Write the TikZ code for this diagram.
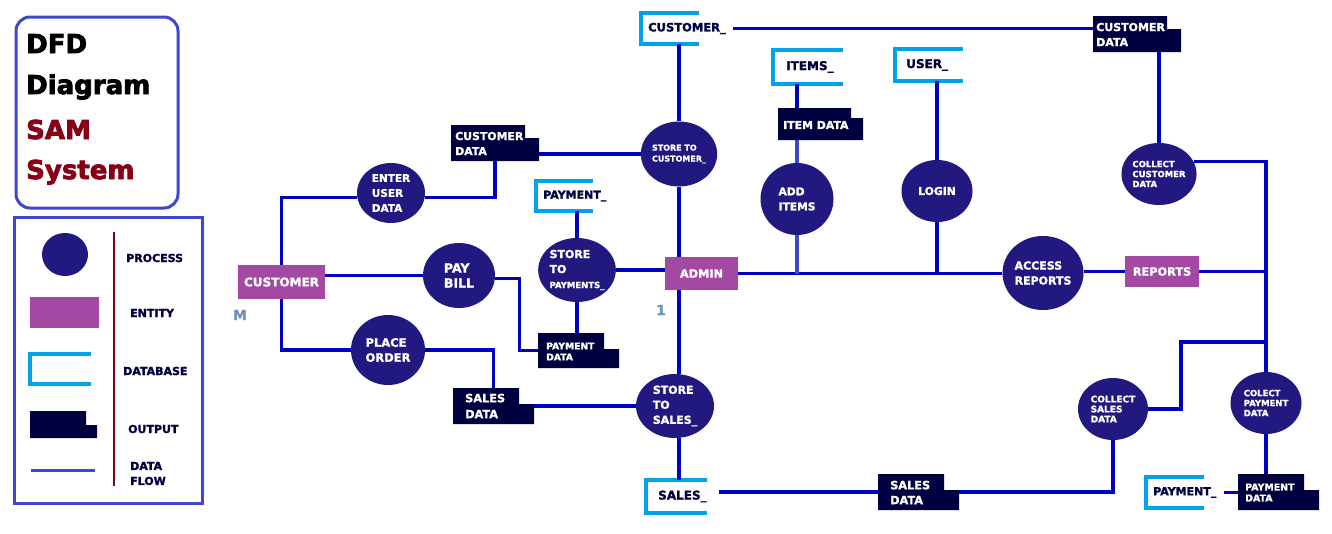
\documentclass[tikz,border=0pt]{standalone}
\usepackage{fontspec}
\setmainfont{DejaVu Sans}[BoldFeatures={FakeBold=1.6}]
\newfontfamily\titlefont{DejaVu Sans}[BoldFeatures={FakeBold=3}]
\usetikzlibrary{shapes.geometric,fit}
\definecolor{procc}{RGB}{33,25,128}
\definecolor{entc}{HTML}{A349A4}
\definecolor{dbc}{HTML}{00A2E8}
\definecolor{outc}{RGB}{0,0,64}
\definecolor{flowc}{RGB}{0,0,192}
\definecolor{flowl}{HTML}{3F48CC}
\definecolor{darkred}{HTML}{880015}
\definecolor{stray}{HTML}{7092BE}
\tikzset{
  fs/.style 2 args={font=\fontsize{#1}{#2}\selectfont\bfseries},
  ttl/.style={anchor=base west, inner sep=0pt, font=\titlefont\fontsize{26}{30}\selectfont\bfseries},
  proc/.style={ellipse, fill=procc, inner sep=0pt, text=white, align=left},
  ent/.style={rectangle, fill=entc, inner sep=0pt, text=white},
  dbtext/.style={text=outc, inner ysep=0pt, anchor=west},
  otext/.style={text=white, align=left, anchor=west, inner sep=0pt},
  flow/.style={draw=flowc, line width=3.3pt},
  flowtwo/.style={draw=flowl, line width=3.3pt},
  dbline/.style={draw=dbc, line width=3.3pt},
  lgtext/.style={text=outc, anchor=west, inner sep=0pt, fs={11}{15}, align=left},
}
\newcommand\outshape[7]{%
  \fill[outc] (#2,#3) -- (#4,#3) -- (#4,#7) -- (#6,#7) -- (#6,#5) -- (#2,#5) -- cycle;
  \node[fit={(#2,#3) (#6,#5)}, inner sep=0pt] (#1) {};
}
\newcommand\dbshape[8]{%
  \draw[dbline] (#4,#3) -- (#2,#3) -- (#2,#5) -- (#4,#5);
  \node[dbtext, inner xsep=#6pt, minimum height={#5-#3}, #7] (#1) at (#2,{(#3+#5)/2}) {#8};
}
\begin{document}
\begin{tikzpicture}[x=1pt,y=-1pt]
\useasboundingbox (0,0) rectangle (1332,533);
\fill[white] (0,0) rectangle (1332,533);

% ---- title box
\draw[flowl, line width=3pt, rounded corners=14pt] (16,17) rectangle (178,208);
\node[ttl] (tDFD) at (26,53) {DFD};
\node[ttl] (tDiag) at (26,94) {Diagram};
\node[ttl, text=darkred] (tSAM) at (26,139) {SAM};
\node[ttl, text=darkred] (tSys) at (26,179) {System};

% ---- legend
\draw[flowl, line width=3pt] (14,217) rectangle (202,503);
\node[ellipse, fill=procc, minimum width=46pt, minimum height=43pt, inner sep=0pt] (lgProc) at (65,254.5) {};
\fill[entc] (30,297) rectangle (99,328);
\draw[dbline] (91,354) -- (30,354) -- (30,384) -- (91,384);
\fill[outc] (30,411) -- (86,411) -- (86,425) -- (97,425) -- (97,438) -- (30,438) -- cycle;
\draw[flowl, line width=3pt] (31,470) -- (95,470);
\draw[darkred, line width=2.5pt] (114,232) -- (114,486);
\node[lgtext] (lgP) at (126,258) {PROCESS};
\node[lgtext] (lgE) at (130,313) {ENTITY};
\node[lgtext] (lgD) at (123,371) {DATABASE};
\node[lgtext] (lgO) at (128,429) {OUTPUT};
\node[lgtext] (lgF) at (130,473.5) {DATA\\FLOW};

% ---- entities
\node[ent, minimum width=87pt, minimum height=34pt, fs={12}{14}] (eCust) at (281.5,282) {CUSTOMER};
\node[ent, minimum width=73pt, minimum height=33pt, fs={11.3}{14}] (eAdmin) at (701.5,273.5) {ADMIN};
\node[ent, minimum width=74pt, minimum height=31pt, fs={11.3}{14}] (eRep) at (1162,271.5) {REPORTS};

% ---- processes
\node[proc, minimum width=68pt, minimum height=60pt, fs={10.5}{15}] (pEnter) at (391,193) {ENTER\\USER\\DATA};
\node[proc, minimum width=72pt, minimum height=65pt, fs={12.5}{15}] (pPay) at (459,275.5) {PAY\\BILL};
\node[proc, minimum width=74pt, minimum height=70pt, fs={11.5}{15}] (pPlace) at (388,350) {PLACE\\ORDER};
\node[proc, minimum width=68pt, minimum height=65pt, fs={8}{11}] (pStCust) at (679,154) {STORE TO\\CUSTOMER\_};
\node[proc, minimum width=77pt, minimum height=64pt, fs={11}{15}] (pStPay) at (577,270) {STORE\\TO\\{\fontsize{8.5}{10}\selectfont PAYMENTS\_}};
\node[proc, minimum width=78pt, minimum height=64pt, fs={11}{15}] (pStSales) at (675,406) {STORE\\TO\\SALES\_};
\node[proc, minimum width=73pt, minimum height=72pt, fs={10.7}{15}] (pAdd) at (797,199) {ADD\\ITEMS};
\node[proc, minimum width=71pt, minimum height=62pt, fs={10.8}{15}] (pLogin) at (937,191) {LOGIN};
\node[proc, minimum width=81pt, minimum height=74pt, fs={11}{15}] (pAccess) at (1043,273) {ACCESS\\REPORTS};
\node[proc, minimum width=72pt, minimum height=62pt, fs={8.5}{10}] (pColCust) at (1159,174) {COLLECT\\CUSTOMER\\DATA};
\node[proc, minimum width=70pt, minimum height=62pt, fs={9}{10}] (pColSales) at (1113,409) {COLLECT\\SALES\\DATA};
\node[proc, minimum width=71pt, minimum height=62pt, fs={8.5}{10}] (pColPay) at (1266,403) {COLECT\\PAYMENT\\DATA};

% ---- outputs
\outshape{cdL}{451}{125}{525}{161}{539}{138}
\node[otext, fs={10.9}{15}] (cdLt) at (455,143.5) {CUSTOMER\\DATA};
\outshape{idata}{778}{108}{851}{140}{863}{118}
\node[otext, fs={10.9}{15}] (idatat) at (783,125) {ITEM DATA};
\outshape{cdR}{1093}{16}{1167}{52}{1181}{29}
\node[otext, fs={11}{15}] (cdRt) at (1096,34.5) {CUSTOMER\\DATA};
\outshape{pdM}{538}{333}{604}{368}{619}{349}
\node[otext, fs={9.2}{11}] (pdMt) at (546,351.5) {PAYMENT\\DATA};
\outshape{sdL}{453}{388}{519}{424}{534}{404}
\node[otext, fs={11.3}{16}] (sdLt) at (465,406) {SALES\\DATA};
\outshape{sdB}{878}{474}{944}{510}{959}{490}
\node[otext, fs={11.3}{15}] (sdBt) at (890,492.5) {SALES\\DATA};
\outshape{pdB}{1238}{474}{1304}{510}{1319}{490}
\node[otext, fs={9.4}{11}] (pdBt) at (1245,492.5) {PAYMENT\\DATA};

% ---- databases
\dbshape{dbCust}{641}{13}{699}{44}{7}{fs={11.5}{14}}{CUSTOMER\_}
\dbshape{dbItems}{773}{50}{843}{84}{13}{fs={12}{14}}{ITEMS\_}
\dbshape{dbPayA}{536}{181}{593}{211}{7}{fs={11}{14}}{PAYMENT\_}
\dbshape{dbUser}{895}{49}{963}{81}{11}{fs={12}{14}}{USER\_}
\dbshape{dbSales}{646}{480}{707}{513}{12}{fs={12}{14}}{SALES\_}
\dbshape{dbPayB}{1146}{477}{1204}{508}{7}{fs={11}{14}}{PAYMENT\_}

% ---- stray marks
\node[text=stray, fs={14}{16}, inner sep=0pt] (strayM) at (240,315) {M};
\node[text=stray, fs={14}{16}, inner sep=0pt] (strayOne) at (661,310) {1};

% ---- connectors
\draw[flow] (eCust.north) |- (pEnter.188);
\draw[flow] (pEnter.-8) -| (cdL.south);
\draw[flow] (pPay.west) -- (pPay.west -| eCust.east);
\draw[flow] (eCust.south) |- (pPlace.west);
\draw[flow] (pPlace.east) -| (sdL.north);
\draw[flow] (pPay.-5) -| ([xshift=-18pt]pdM.west) -- (pdM.west);
\draw[flow] (pStSales.west) -- (pStSales.west -| sdL.east);
\draw[flow] (pStCust.west) -- (pStCust.west -| cdL.east);
\draw[flow] (pStCust.north) -- (pStCust.north |- dbCust.south);
\draw[flow] (pStCust.south) -- (pStCust.south |- eAdmin.north);
\draw[flow] (eAdmin.south -| pStCust.south) -- (pStCust.south |- pStSales.north);
\draw[flow] (pStCust.south |- pStSales.south) -- (pStCust.south |- dbSales.north);
\draw[flow] (pStPay.east) -- (pStPay.east -| eAdmin.west);
\draw[flow] (pStPay.north) -- (pStPay.north |- dbPayA.south);
\draw[flow] (pStPay.south) -- (pStPay.south |- pdM.north);
\draw[flow] (eAdmin.east) -- (eAdmin.east -| pAccess.west);
\draw[flowtwo] (pAdd.south) -- (pAdd.south |- eAdmin.east);
\draw[flow] (pLogin.south) -- (pLogin.south |- eAdmin.east);
\draw[flow] (pAdd.north |- dbItems.south) -- (pAdd.north |- idata.north);
\draw[flowtwo] (pAdd.north |- idata.south) -- (pAdd.north);
\draw[flow] (pLogin.north |- dbUser.south) -- (pLogin.north);
\draw[flow] (dbCust.east) -- (dbCust.east -| cdR.west);
\draw[flow] (pColCust.north |- cdR.south) -- (pColCust.north);
\draw[flow] (eRep.west) -- (eRep.west -| pAccess.east);
\draw[flow] (pColCust.20) -| (pColPay.north);
\draw[flow] (eRep.east) -- (eRep.east -| pColPay.north);
\coordinate (jS) at (1181,342);
\draw[flow] (pColSales.east) -| (jS) -- (jS -| pColPay.north);
\draw[flow] (pColSales.south) |- (sdB.east);
\draw[flow] (sdB.west) -- (sdB.west -| dbSales.east);
\draw[flow] (pColPay.south) -- (pColPay.south |- pdB.north);
\draw[flow] (dbPayB.east) -- (dbPayB.east -| pdB.west);
\end{tikzpicture}
\end{document}
